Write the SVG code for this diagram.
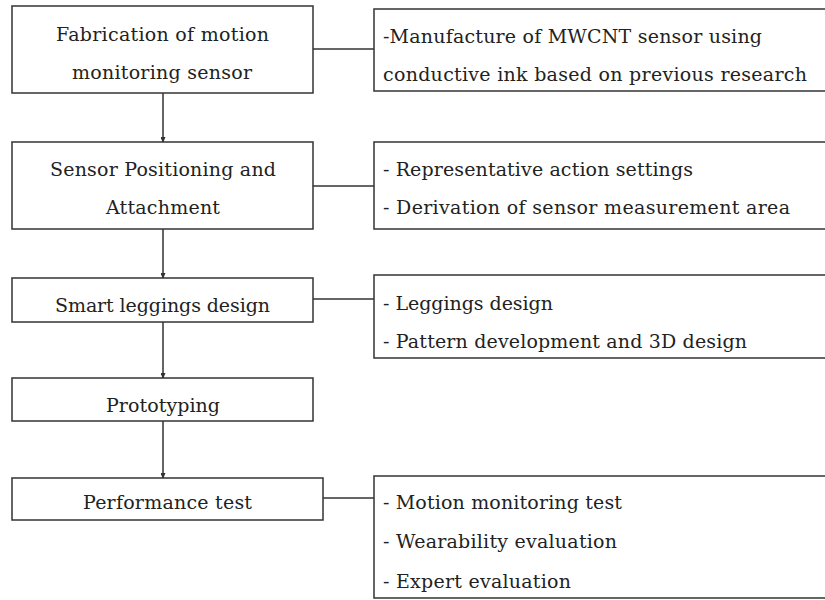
<svg xmlns="http://www.w3.org/2000/svg" width="825" height="600" viewBox="0 0 825 600">
<defs>
<style>
.box{fill:#fff;stroke:#333;stroke-width:1.5}
.t{font-family:"DejaVu Serif","Liberation Serif",serif;font-size:19px;fill:#222}
.c{text-anchor:middle}
.ln{stroke:#333;stroke-width:1.5;fill:none}
</style>
<marker id="ah" markerWidth="6" markerHeight="5" refX="5" refY="2.5" orient="auto" markerUnits="userSpaceOnUse">
<path d="M0,0 L6,2.5 L0,5 Z" fill="#333"/>
</marker>
</defs>
<rect width="825" height="600" fill="#fff"/>
<g id="connectors">
<line class="ln" x1="163" y1="93" x2="163" y2="142" marker-end="url(#ah)"/>
<line class="ln" x1="163" y1="229" x2="163" y2="278" marker-end="url(#ah)"/>
<line class="ln" x1="163" y1="322" x2="163" y2="378" marker-end="url(#ah)"/>
<line class="ln" x1="163" y1="421" x2="163" y2="478" marker-end="url(#ah)"/>
<line class="ln" x1="313" y1="49" x2="374" y2="49"/>
<line class="ln" x1="313" y1="186" x2="374" y2="186"/>
<line class="ln" x1="313" y1="299" x2="374" y2="299"/>
<line class="ln" x1="323" y1="498" x2="374" y2="498"/>
</g>
<g id="n1">
<rect class="box" x="12" y="6" width="301" height="87"/>
<text class="t c" x="162.5" y="41" textLength="213" lengthAdjust="spacing">Fabrication of motion</text>
<text class="t c" x="162" y="79" textLength="180" lengthAdjust="spacing">monitoring sensor</text>
</g>
<g id="n2">
<rect class="box" x="12" y="142" width="301" height="87"/>
<text class="t c" x="163" y="176" textLength="226" lengthAdjust="spacing">Sensor Positioning and</text>
<text class="t c" x="163" y="214" textLength="114" lengthAdjust="spacing">Attachment</text>
</g>
<g id="n3">
<rect class="box" x="12" y="278" width="301" height="44"/>
<text class="t c" x="162.5" y="312" textLength="215" lengthAdjust="spacing">Smart leggings design</text>
</g>
<g id="n4">
<rect class="box" x="12" y="378" width="301" height="43"/>
<text class="t c" x="163" y="412" textLength="114" lengthAdjust="spacing">Prototyping</text>
</g>
<g id="n5">
<rect class="box" x="12" y="478" width="311" height="42"/>
<text class="t c" x="167.5" y="509" textLength="169" lengthAdjust="spacing">Performance test</text>
</g>
<g id="r1">
<rect class="box" x="374" y="9" width="460" height="82"/>
<text class="t" x="383" y="43" textLength="379" lengthAdjust="spacing">-Manufacture of MWCNT sensor using</text>
<text class="t" x="383" y="81" textLength="424" lengthAdjust="spacing">conductive ink based on previous research</text>
</g>
<g id="r2">
<rect class="box" x="374" y="142" width="460" height="87"/>
<text class="t" x="383" y="176" textLength="310" lengthAdjust="spacing">- Representative action settings</text>
<text class="t" x="383" y="214" textLength="407" lengthAdjust="spacing">- Derivation of sensor measurement area</text>
</g>
<g id="r3">
<rect class="box" x="374" y="275" width="460" height="83"/>
<text class="t" x="383" y="310" textLength="170" lengthAdjust="spacing">- Leggings design</text>
<text class="t" x="383" y="348" textLength="364" lengthAdjust="spacing">- Pattern development and 3D design</text>
</g>
<g id="r4">
<rect class="box" x="374" y="476" width="460" height="122"/>
<text class="t" x="383" y="509" textLength="239" lengthAdjust="spacing">- Motion monitoring test</text>
<text class="t" x="383" y="548" textLength="234" lengthAdjust="spacing">- Wearability evaluation</text>
<text class="t" x="383" y="588" textLength="188" lengthAdjust="spacing">- Expert evaluation</text>
</g>
</svg>
